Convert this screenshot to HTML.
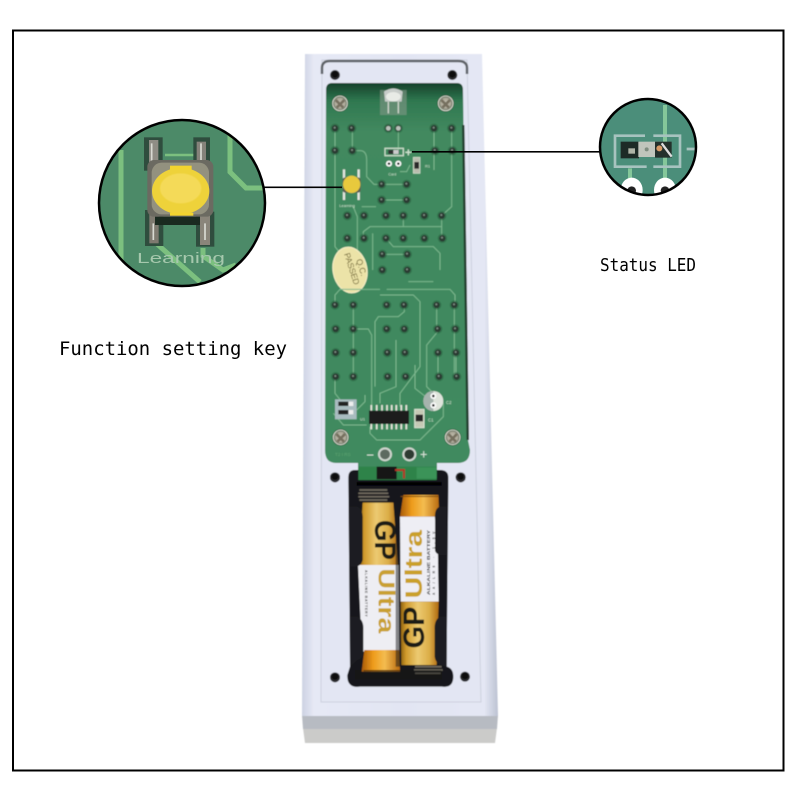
<!DOCTYPE html>
<html lang="en"><head><meta charset="utf-8"><title>Remote control PCB diagram</title>
<style>html,body{margin:0;padding:0;background:#fff}svg{display:block}</style></head>
<body>
<svg xmlns="http://www.w3.org/2000/svg" width="800" height="800" viewBox="0 0 800 800">
<defs>
<linearGradient id="side" x1="0" x2="1" y1="0" y2="0">
<stop offset="0" stop-color="#ccd2e2"/><stop offset=".06" stop-color="#e6e9f5"/><stop offset=".5" stop-color="#e2e5f3"/><stop offset=".93" stop-color="#e4e7f4"/><stop offset="1" stop-color="#bcc2d2"/></linearGradient>
<linearGradient id="gold" x1="0" x2="1" y1="0" y2="0">
<stop offset="0" stop-color="#8f6212"/><stop offset=".14" stop-color="#d09a2c"/><stop offset=".45" stop-color="#ecca72"/><stop offset=".75" stop-color="#dcae48"/><stop offset="1" stop-color="#b06a12"/></linearGradient>
<linearGradient id="orange" x1="0" x2="1" y1="0" y2="0">
<stop offset="0" stop-color="#a85a08"/><stop offset=".3" stop-color="#ee9c1c"/><stop offset=".6" stop-color="#f4bc50"/><stop offset="1" stop-color="#b86a10"/></linearGradient>
<linearGradient id="pcbshade" x1="0" x2="0" y1="0" y2="1">
<stop offset="0" stop-color="#15402a"/><stop offset=".045" stop-color="#2f7850"/><stop offset=".12" stop-color="#42895f"/><stop offset="1" stop-color="#3f8a5e"/></linearGradient>
<radialGradient id="screw"><stop offset="0" stop-color="#c9c5b6"/><stop offset=".7" stop-color="#aca898"/><stop offset="1" stop-color="#4a5a4a"/></radialGradient>
<clipPath id="cl"><circle cx="182" cy="203" r="83"/></clipPath>
<clipPath id="cr"><circle cx="648" cy="147" r="48"/></clipPath>
<filter id="b0" x="-5%" y="-5%" width="110%" height="110%"><feGaussianBlur stdDeviation="0.45"/></filter>
<filter id="b1" x="-10%" y="-10%" width="120%" height="120%"><feGaussianBlur stdDeviation="0.5"/></filter>
<filter id="b2" x="-10%" y="-10%" width="120%" height="120%"><feGaussianBlur stdDeviation="1.2"/></filter>
<g id="pad"><circle r="14" fill="#1f4f34" opacity=".4"/><circle r="9.500" fill="#2c3a33"/><circle cx="-1" cy="-2" r="3" fill="#7f8e83"/></g>
<g id="scr"><circle r="25" fill="#1d4a2f"/><circle r="22" fill="url(#screw)"/><path d="M-13 -10 L10 13 M13 -10 L-10 13" stroke="#76705f" stroke-width="8"/><circle r="22" fill="none" stroke="#ecebe0" stroke-width="2.500"/></g>
<g id="hole"><circle r="15" fill="#2a2c2e"/><circle cy="-2" r="10" fill="#111"/></g>
</defs>

<rect width="800" height="800" fill="#fff"/>
<rect x="13" y="30.500" width="770.500" height="740" fill="none" stroke="#000" stroke-width="2"/>

<g filter="url(#b0)">
<!-- case shadow and front -->
<polygon points="303,728 497,728 495,743 305,743" fill="#cbcbc9"/>
<polygon points="302,715 498,715 497,729 303,729" fill="#b7bbc2"/>
<polygon points="305,54 482,54 498,716 302,716" fill="url(#side)"/>
<polygon points="322,60 467,60 481,702 321,702" fill="#e3e6f3" stroke="#cdd1de" stroke-width="1"/>
<path d="M322 74 V68 Q322 61 330 61 L458 61 Q467 61 467 68 V74" fill="none" stroke="#5f6368" stroke-width="2.500"/>

<!-- PCB -->
<path d="M332 83 L457 83 Q463 83 463 90 L468 440 L470 450 Q470 463 458 463 L437 463 L437 480 L358 480 L358 463 L336 463 Q325 463 325 450 L326 90 Q326 83 332 83Z" fill="url(#pcbshade)"/>
<polygon points="462,125 464.500,125 469,440 466.500,440" fill="#23402f"/>

<!-- zoom 1 content -->
<g transform="translate(300,50) scale(.33333)">
<g fill="none" stroke="#7db88f" stroke-width="3" filter="url(#b1)">
<path d="M105 235V590L125 615"/><path d="M157 235V302H180Q200 302 200 330V380L222 403H320"/><path d="M245 450H320"/>
<path d="M295 235V302"/><path d="M402 235V360"/><path d="M455 235V470L425 497"/>
<path d="M310 497V530M425 497V565M190 565V545L210 530H425"/><path d="M218 550V660"/><path d="M258 565L280 590H400L420 610V660"/><path d="M247 613H322"/>
<path d="M160 470L172 500V600"/><path d="M330 345L320 365H300"/><path d="M185 470H228"/>
</g>
<rect x="240" y="120" width="80" height="75" fill="#8a9a8c" opacity=".55"/>
<path d="M252 125Q280 105 308 125L305 155H255Z" fill="#c7ccc9"/><ellipse cx="280" cy="140" rx="22" ry="14" fill="#e8ebe6"/>
<path d="M265 155V190M295 155V190" stroke="#cfd5cc" stroke-width="4"/>
<use href="#scr" x="120" y="160"/><use href="#scr" x="437" y="160"/>
<use href="#hole" x="105" y="75"/><use href="#hole" x="457" y="75"/>
<use href="#pad" x="105" y="235"/><use href="#pad" x="155" y="235"/><use href="#pad" x="265" y="235"/><use href="#pad" x="295" y="235"/><use href="#pad" x="402" y="235"/><use href="#pad" x="455" y="235"/>
<circle cx="265" cy="235" r="7" fill="#b9c2ba"/><circle cx="295" cy="235" r="7" fill="#b9c2ba"/>
<use href="#pad" x="105" y="302"/><use href="#pad" x="157" y="302"/><use href="#pad" x="405" y="302"/><use href="#pad" x="457" y="302"/>
<use href="#pad" x="245" y="403"/><use href="#pad" x="320" y="403"/><use href="#pad" x="245" y="450"/><use href="#pad" x="320" y="450"/>
<use href="#pad" x="142" y="497"/><use href="#pad" x="192" y="497"/><use href="#pad" x="258" y="497"/><use href="#pad" x="310" y="497"/><use href="#pad" x="373" y="497"/><use href="#pad" x="425" y="497"/>
<use href="#pad" x="142" y="565"/><use href="#pad" x="192" y="565"/><use href="#pad" x="258" y="565"/><use href="#pad" x="310" y="565"/><use href="#pad" x="373" y="565"/><use href="#pad" x="427" y="565"/>
<use href="#pad" x="247" y="613"/><use href="#pad" x="322" y="613"/><use href="#pad" x="247" y="660"/><use href="#pad" x="322" y="660"/>
<!-- LED area -->
<rect x="255" y="295" width="55" height="22" fill="none" stroke="#c9dcc9" stroke-width="4"/><rect x="265" y="300" width="32" height="12" fill="#333"/><rect x="280" y="300" width="16" height="12" fill="#ccc"/>
<path d="M316 307H334M325 298V316" stroke="#cfe2cf" stroke-width="4"/>
<circle cx="267" cy="341" r="9" fill="#fff"/><circle cx="267" cy="341" r="4" fill="#222"/><circle cx="295" cy="341" r="9" fill="#fff"/><circle cx="295" cy="341" r="4" fill="#222"/>
<text x="265" y="376" font-family="Liberation Sans, sans-serif" font-size="11" fill="#cfe2cf">Card</text>
<rect x="340" y="322" width="20" height="48" fill="#b9bcae" stroke="#cfe2cf" stroke-width="2"/><rect x="343" y="336" width="14" height="20" fill="#2a2a2a"/>
<text x="375" y="352" font-family="Liberation Sans, sans-serif" font-size="12" fill="#cfe2cf">R1</text>
<!-- button -->
<path d="M132 358V385M176 358V385M132 425V450M176 425V450" stroke="#e4e6e0" stroke-width="7"/>
<rect x="128" y="382" width="54" height="46" rx="8" fill="#5b5f52"/>
<circle cx="155" cy="403" r="26" fill="#e8c93e"/>
<text x="118" y="471" font-family="Liberation Sans, sans-serif" font-size="12" fill="#d3e4d3">Learning</text>
</g>

<!-- sticker -->
<ellipse cx="350" cy="270" rx="17" ry="23" transform="rotate(-10 350 270)" fill="#ece3a8" stroke="#f5efc8" stroke-width="1"/>
<g font-family="Liberation Sans, sans-serif" fill="#6f6530" font-size="8.500">
<text transform="translate(356,260) rotate(72)">Q.C.</text>
<text transform="translate(344,254) rotate(72)" textLength="33">PASSED</text>
</g>

<!-- zoom 2 content -->
<g transform="translate(300,270) scale(.33333)">
<g fill="none" stroke="#7db88f" stroke-width="3" filter="url(#b1)">
<path d="M105 105V75L120 58H240M240 75H340L360 95V290L300 370V410"/><path d="M260 58H450L465 75V105"/><path d="M463 105V320"/>
<path d="M160 105V320M160 177H205L215 195V430"/><path d="M313 105V125L295 140H235L225 155V350"/><path d="M288 210V350L240 370V400"/>
<path d="M345 285V355L415 410"/><path d="M410 105V177M413 185L380 225V350L430 400V440L360 510H230L210 490V470"/>
<path d="M414 248V320M468 248V320"/><path d="M105 320V370L125 395M100 430L130 465H200"/><path d="M325 35H400M195 375V395L170 420"/>
</g>
<g><use href="#pad" x="105" y="105"/><use href="#pad" x="160" y="105"/><use href="#pad" x="260" y="105"/><use href="#pad" x="312" y="105"/><use href="#pad" x="410" y="105"/><use href="#pad" x="463" y="105"/>
<use href="#pad" x="107" y="177"/><use href="#pad" x="160" y="177"/><use href="#pad" x="260" y="177"/><use href="#pad" x="313" y="177"/><use href="#pad" x="413" y="177"/><use href="#pad" x="466" y="177"/>
<use href="#pad" x="107" y="248"/><use href="#pad" x="160" y="248"/><use href="#pad" x="262" y="248"/><use href="#pad" x="315" y="248"/><use href="#pad" x="414" y="248"/><use href="#pad" x="468" y="248"/>
<use href="#pad" x="107" y="320"/><use href="#pad" x="160" y="320"/><use href="#pad" x="263" y="320"/><use href="#pad" x="317" y="320"/><use href="#pad" x="417" y="320"/><use href="#pad" x="470" y="320"/></g>
<!-- SW -->
<rect x="105" y="388" width="65" height="60" fill="#a9bcc0"/><rect x="115" y="395" width="30" height="13" fill="#222"/><rect x="115" y="420" width="30" height="13" fill="#222"/><rect x="146" y="395" width="14" height="13" fill="#eee"/><rect x="146" y="420" width="14" height="13" fill="#eee"/>
<!-- IC -->
<g stroke="#e6e6dc" stroke-width="5"><path d="M214 405V425M230 405V425M246 405V425M261 405V425M275 405V425M289 405V425M304 405V425M319 405V425"/><path d="M214 460V478M230 460V478M246 460V478M261 460V478M275 460V478M289 460V478M304 460V478M319 460V478"/></g>
<rect x="207" y="422" width="120" height="40" fill="#1a1c1c"/>
<text x="180" y="452" font-family="Liberation Sans, sans-serif" font-size="12" fill="#cfe2cf">U1</text>
<!-- C2 -->
<circle cx="400" cy="393" r="30" fill="#dfe4dc"/><path d="M370 393A30 30 0 0 1 400 363V423A30 30 0 0 1 370 393" fill="#a6b3ad"/>
<circle cx="400" cy="378" r="9" fill="#fff"/><circle cx="400" cy="378" r="4" fill="#222"/><circle cx="400" cy="406" r="9" fill="#fff"/><circle cx="400" cy="406" r="4" fill="#222"/>
<text x="438" y="402" font-family="Liberation Sans, sans-serif" font-size="13" fill="#cfe2cf">C2</text>
<rect x="344" y="418" width="28" height="55" fill="#c5c9b5" stroke="#d7e5d4" stroke-width="3"/><rect x="347" y="434" width="22" height="20" fill="#272727"/>
<text x="384" y="455" font-family="Liberation Sans, sans-serif" font-size="13" fill="#cfe2cf">C1</text>
<use href="#scr" x="122" y="502"/><use href="#scr" x="458" y="502"/>
<circle cx="255" cy="553" r="21" fill="#cfd6cf"/><circle cx="255" cy="553" r="15" fill="#5d6a60"/><circle cx="328" cy="553" r="21" fill="#cfd6cf"/><circle cx="328" cy="553" r="15" fill="#2e3a32"/>
<text x="199" y="568" font-family="Liberation Sans, sans-serif" font-size="40" fill="#dfe9df">−</text>
<text x="360" y="566" font-family="Liberation Sans, sans-serif" font-size="38" fill="#dfe9df">+</text>
<text x="105" y="558" font-family="Liberation Sans, sans-serif" font-size="14" fill="#5fa573">T2 I RS</text>
<use href="#hole" x="105" y="622"/><use href="#hole" x="482" y="622"/>
</g>

<!-- battery compartment (zoom 3 coords) -->
<g transform="translate(300,470) scale(.33333)">
<path d="M145 35V22Q145 0 165 0H420Q445 0 445 22V50L440 590Q460 595 460 620Q460 655 425 650H180Q140 655 142 615L150 590Z" fill="#17191b"/>
<rect x="175" y="-10" width="235" height="40" fill="#2f8349"/><rect x="230" y="-10" width="60" height="38" fill="#151515"/><path d="M285 0H312V25" stroke="#b03428" stroke-width="6" fill="none"/><rect x="350" y="-8" width="60" height="34" fill="#3a9358"/>
<rect x="170" y="36" width="255" height="11" fill="#000"/>
<!-- springs -->
<g stroke="#6f6a5e" stroke-width="5"><path d="M178 60H262M175 70H265M175 80H268M178 90H262"/><path d="M345 590H425M342 600H428M345 610H422"/></g>
<rect x="165" y="600" width="260" height="28" fill="#111" opacity=".4"/>
<!-- battery 1 -->
<path d="M188 98L280 98L294 285H176Z" fill="url(#gold)"/>
<path d="M174 285H296L298 545H186Z" fill="#eeeef3"/>
<path d="M193 540H298L300 605H185Z" fill="url(#orange)"/>
<rect x="190" y="600" width="110" height="4" fill="#5d3a10"/>
<g font-family="Liberation Sans, sans-serif" font-weight="700">
<text transform="translate(225,150) rotate(90)" font-size="90" fill="#1e1e18" textLength="120" lengthAdjust="spacingAndGlyphs">GP</text>
<text transform="translate(235,295) rotate(90)" font-size="70" fill="#c9a030" textLength="195" lengthAdjust="spacingAndGlyphs">Ultra</text>
<text transform="translate(195,300) rotate(90)" font-size="11" fill="#444" textLength="140">ALKALINE BATTERY</text>
<!-- battery 2 -->
<path d="M310 75H415L418 140H300Z" fill="url(#orange)"/>
<rect x="302" y="78" width="112" height="3" fill="#7a4a10"/>
<path d="M300 140H412L416 395H302Z" fill="#eeeef4"/>
<path d="M302 395H416L410 585H304Z" fill="url(#gold)"/>
<text transform="translate(366,385) rotate(-90)" font-size="72" fill="#caa02c" textLength="205" lengthAdjust="spacingAndGlyphs">Ultra</text>
<text transform="translate(390,375) rotate(-90)" font-size="14" fill="#222" textLength="195" lengthAdjust="spacingAndGlyphs">ALKALINE BATTERY</text>
<text transform="translate(405,375) rotate(-90)" font-size="10" fill="#444" textLength="190">AA/LR6 · 1.5V</text>
<text transform="translate(372,535) rotate(-90)" font-size="90" fill="#1e1e18" textLength="125" lengthAdjust="spacingAndGlyphs">GP</text>
</g>
<!-- clips -->
<path d="M150 110H170Q190 115 188 150V270Q185 285 170 290H150Z" fill="#1c1e20"/>
<path d="M150 440H172Q192 450 190 480V550Q188 565 172 570L150 590Z" fill="#1c1e20"/>
<path d="M440 110H420Q402 115 405 150V240Q405 250 420 255H440Z" fill="#1c1e20"/>
<path d="M440 440H420Q402 450 404 480V560Q405 575 420 585L440 590Z" fill="#1c1e20"/>
<rect x="287" y="60" width="13" height="530" fill="#17191b" opacity=".5"/>
<use href="#hole" x="105" y="22"/><use href="#hole" x="482" y="22"/><use href="#hole" x="105" y="622"/><use href="#hole" x="495" y="620"/>
</g>
</g>

<!-- left callout -->
<g clip-path="url(#cl)">
<circle cx="182" cy="203" r="83" fill="#4c8a68"/>
<g fill="none" stroke="#7cc07f" stroke-width="5">
<path d="M121 150V262"/><path d="M230 135V172L246 188H270"/><path d="M157 244L200 282"/><path d="M203 248V256L223 270L236 265"/>
<path d="M165 155H195" stroke-width="2.500"/></g>
<g transform="translate(90,110) scale(.33333)">
<rect x="162" y="82" width="56" height="100" fill="#2f4d3e"/><rect x="310" y="82" width="50" height="90" fill="#2f4d3e"/><rect x="165" y="300" width="55" height="108" fill="#2f4d3e"/><rect x="318" y="305" width="55" height="105" fill="#2f4d3e"/>
<rect x="177" y="90" width="28" height="85" fill="#8f8d85"/><rect x="320" y="95" width="28" height="75" fill="#85827a"/><rect x="178" y="305" width="28" height="95" fill="#7e7a70"/><rect x="330" y="310" width="30" height="95" fill="#8a857a"/>
<path d="M185 100V170M333 100V170M190 340V390M345 340V390" stroke="#d9dad3" stroke-width="5"/>
<path d="M195 345H330V320H195Z" fill="#1a2a20"/>
<rect x="172" y="150" width="198" height="170" rx="20" fill="#6b6a61"/>
<rect x="185" y="158" width="172" height="155" rx="30" fill="#93917f"/>
<ellipse cx="272" cy="243" rx="86" ry="70" fill="#eed23a"/>
<ellipse cx="272" cy="235" rx="62" ry="45" fill="#f4da58" filter="url(#b2)"/>
<rect x="240" y="167" width="65" height="12" fill="#f2d42f"/><rect x="240" y="308" width="70" height="9" fill="#f2d42f"/>
</g>
<text x="137" y="263" font-family="Liberation Sans, sans-serif" font-size="15" fill="#a6c8ad" textLength="88" lengthAdjust="spacingAndGlyphs">Learning</text>
</g>
<circle cx="182" cy="203" r="83" fill="none" stroke="#000" stroke-width="2.500"/>
<rect x="264" y="186.500" width="78" height="1.600" fill="#000"/>

<!-- right callout -->
<g clip-path="url(#cr)">
<circle cx="648" cy="147" r="48" fill="#4b8e7a"/>
<g transform="translate(590,95) scale(.33333)">
<path d="M120 220V300M225 30V300" stroke="#84c79a" stroke-width="12" fill="none"/>
<path d="M165 122H75V215H170M190 122H270V215H190" fill="none" stroke="#a7c3bf" stroke-width="8"/>
<path d="M290 162H315" stroke="#a7c3bf" stroke-width="8"/>
<rect x="92" y="140" width="55" height="50" fill="#1d2b26"/><rect x="115" y="160" width="20" height="16" fill="#aeb4a6"/>
<rect x="145" y="140" width="70" height="46" fill="#c0c5bc"/><circle cx="170" cy="163" r="6" fill="#7f8d80"/>
<rect x="195" y="140" width="50" height="48" fill="#23302b"/><path d="M215 145L245 185" stroke="#ddd" stroke-width="7"/><circle cx="208" cy="160" r="9" fill="#d69a66"/>
<ellipse cx="125" cy="285" rx="33" ry="37" fill="#fff"/><circle cx="125" cy="287" r="13" fill="#222"/>
<ellipse cx="225" cy="285" rx="33" ry="37" fill="#fff"/><circle cx="225" cy="287" r="13" fill="#222"/>
</g>
</g>
<circle cx="648" cy="147" r="48" fill="none" stroke="#000" stroke-width="2.500"/>
<rect x="412" y="151" width="188" height="1.600" fill="#000"/>

<!-- labels -->
<text x="59" y="355" font-family="DejaVu Sans Mono, monospace" font-size="19" fill="#000" textLength="228" lengthAdjust="spacingAndGlyphs">Function setting key</text>
<text x="600" y="271" font-family="DejaVu Sans Mono, monospace" font-size="18" fill="#000" textLength="96" lengthAdjust="spacingAndGlyphs">Status LED</text>
</svg>
</body></html>
